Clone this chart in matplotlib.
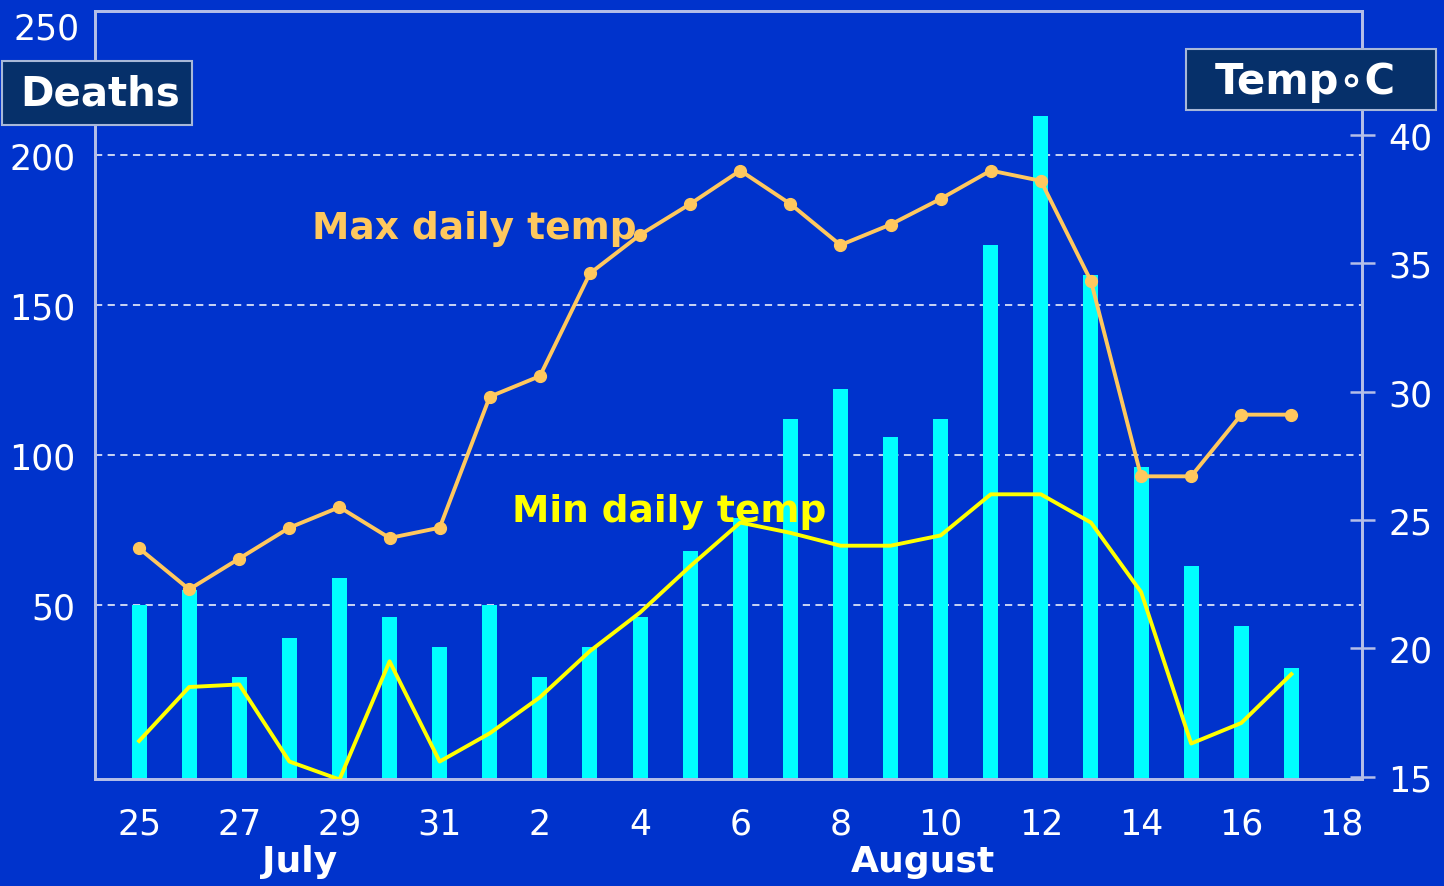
import matplotlib
matplotlib.use("Agg")
import matplotlib.pyplot as plt
from matplotlib.patches import Rectangle

# ---- data ----
day_labels = ["25", "26", "27", "28", "29", "30", "31", "1", "2", "3", "4", "5",
              "6", "7", "8", "9", "10", "11", "12", "13", "14", "15", "16", "17"]
tick_labels = ["25", "27", "29", "31", "2", "4", "6", "8", "10", "12", "14", "16", "18"]
deaths = [50, 55, 26, 39, 59, 46, 36, 50, 26, 36, 46, 68,
          79, 112, 122, 106, 112, 170, 213, 160, 96, 63, 43, 29]
max_temp = [23.9, 22.3, 23.5, 24.7, 25.5, 24.3, 24.7, 29.8, 30.6, 34.6, 36.1, 37.3,
            38.6, 37.3, 35.7, 36.5, 37.5, 38.6, 38.2, 34.3, 26.7, 26.7, 29.1, 29.1]
min_temp = [16.4, 18.5, 18.6, 15.6, 14.9, 19.5, 15.6, 16.7, 18.1, 19.9, 21.4, 23.2,
            24.9, 24.5, 24.0, 24.0, 24.4, 26.0, 26.0, 24.9, 22.2, 16.3, 17.1, 19.0]
death_ticks = [50, 100, 150, 200]
temp_ticks = [15, 20, 25, 30, 35, 40]
months = ["July", "August"]

BG = "#0033CC"
SPINE = "#B4BEE8"
x = list(range(len(deaths)))
tick_pos = list(range(0, 2 * len(tick_labels), 2))

fig = plt.figure(figsize=(14.44, 8.87), dpi=100)
fig.patch.set_facecolor(BG)
ax = fig.add_axes([95 / 1444, 1 - 780 / 887, (1362 - 95) / 1444, (780 - 12) / 887])
ax.set_facecolor(BG)
ymin_d = -8
ax.set_ylim(ymin_d, 248)
ax.set_xlim(-0.88, 24.41)

ax.bar(x, [d - ymin_d for d in deaths], bottom=ymin_d, width=0.3, color="#00FFFF", zorder=2)
for v in death_ticks:
    ax.axhline(v, color="white", lw=1.3, ls=(0, (4, 3)), alpha=0.85, zorder=1)

ax.set_yticks(death_ticks)
ax.set_yticklabels([str(v) for v in death_ticks])
ax.tick_params(axis="y", length=0, pad=14, labelsize=25, labelcolor="white")
ax.set_xticks(tick_pos)
ax.set_xticklabels(tick_labels)
ax.tick_params(axis="x", length=0, pad=20, labelsize=25, labelcolor="white")
for s in ax.spines.values():
    s.set_color(SPINE)
    s.set_linewidth(2)
ax.text(-0.012, 1.0, "250", transform=ax.transAxes, ha="right", va="top",
        fontsize=25, color="white")

ax2 = ax.twinx()
ax2.set_ylim(14.92, 44.81)
ax2.plot(x, max_temp, color="#FFC85E", lw=2.8, marker="o", ms=8.5, zorder=3)
ax2.plot(x, min_temp, color="#FFFF00", lw=2.8, zorder=3)
ax2.set_yticks(temp_ticks)
ax2.set_yticklabels([str(v) for v in temp_ticks])
ax2.tick_params(axis="y", direction="inout", length=18, width=1.8, color=SPINE,
                pad=10, labelsize=25, labelcolor="white")
for s in ax2.spines.values():
    s.set_color(SPINE)
    s.set_linewidth(2)

fig.text(312 / 1444, 1 - 229 / 887, "Max daily temp", color="#FFC85E", fontsize=27,
         fontweight="bold", ha="left", va="center")
fig.text(512 / 1444, 1 - 512 / 887, "Min daily temp", color="#FFFF00", fontsize=27,
         fontweight="bold", ha="left", va="center")

# label boxes
fig.patches.append(Rectangle((2 / 1444, 1 - 126 / 887), 190 / 1444, 64 / 887,
                             transform=fig.transFigure, facecolor="#06306A",
                             edgecolor="#A8B8D8", lw=1.5, zorder=5))
fig.text(100 / 1444, 1 - 95 / 887, "Deaths", color="white", fontsize=29,
         fontweight="bold", ha="center", va="center", zorder=6)
fig.patches.append(Rectangle((1186 / 1444, 1 - 111 / 887), 250 / 1444, 61 / 887,
                             transform=fig.transFigure, facecolor="#06306A",
                             edgecolor="#A8B8D8", lw=1.5, zorder=5))
fig.text(1305 / 1444, 1 - 82 / 887, "Temp\u2218C", color="white", fontsize=30,
         fontweight="bold", ha="center", va="center", zorder=6)

# month labels
fig.text(300 / 1444, 1 - 862 / 887, months[0], color="white", fontsize=26,
         fontweight="bold", ha="center", va="center")
fig.text(923 / 1444, 1 - 862 / 887, months[1], color="white", fontsize=26,
         fontweight="bold", ha="center", va="center")

fig.savefig("out.png", dpi=100, facecolor=BG)
